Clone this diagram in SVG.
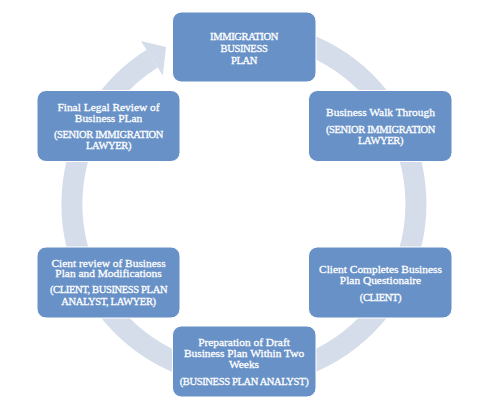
<svg xmlns="http://www.w3.org/2000/svg" width="482" height="409" viewBox="0 0 482 409">
<style>
.box{fill:#6891c7;stroke:#ffffff;stroke-width:1}
.t{font-family:"Liberation Serif","Times New Roman",serif;font-size:11.4px;fill:#ffffff;stroke:#ffffff;stroke-width:0.3px;text-anchor:middle}
.c{font-size:10.5px;letter-spacing:-0.35px}
.ring{fill:none;stroke:#d5dcea;stroke-width:21}
</style>
<rect width="482" height="409" fill="#ffffff"/>
<g id="connectors">
<path class="ring" d="M 259.0 32.7 A 172 172 0 1 1 152.1 58.6"/>
<polygon points="140.9,40.9 166,47 162.8,75.5" fill="#d5dcea"/>
</g>
<g id="node-plan">
<rect class="box" x="172.5" y="12" width="143.5" height="70" rx="9"/>
<text class="t c" x="244" y="40">IMMIGRATION</text>
<text class="t c" x="244" y="52.3">BUSINESS</text>
<text class="t c" x="244" y="64.3">PLAN</text>
</g>
<g id="node-walk">
<rect class="box" x="308.5" y="90.5" width="143.5" height="71" rx="9"/>
<text class="t" x="380.5" y="116">Business Walk Through</text>
<text class="t c" x="380.5" y="133.3">(SENIOR IMMIGRATION</text>
<text class="t c" x="380.5" y="143.5">LAWYER)</text>
</g>
<g id="node-questionaire">
<rect class="box" x="308.5" y="247" width="143.5" height="71" rx="9"/>
<text class="t" x="380.5" y="273.3">Client Completes Business</text>
<text class="t" x="380.5" y="284.3">Plan Questionaire</text>
<text class="t c" x="380.5" y="301">(CLIENT)</text>
</g>
<g id="node-draft">
<rect class="box" x="172.5" y="326" width="143.5" height="71" rx="9"/>
<text class="t" x="244" y="345.7">Preparation of Draft</text>
<text class="t" x="244" y="357.3">Business Plan Within Two</text>
<text class="t" x="244" y="368.3">Weeks</text>
<text class="t c" x="244" y="385">(BUSINESS PLAN ANALYST)</text>
</g>
<g id="node-client-review">
<rect class="box" x="37" y="247" width="143" height="71" rx="9"/>
<text class="t" x="108.5" y="266.7">Cient review of Business</text>
<text class="t" x="108.5" y="277.3">Plan and Modifications</text>
<text class="t c" x="108.5" y="293.3">(CLIENT, BUSINESS PLAN</text>
<text class="t c" x="108.5" y="305">ANALYST, LAWYER)</text>
</g>
<g id="node-final-review">
<rect class="box" x="37" y="90.5" width="143" height="71" rx="9"/>
<text class="t" x="108.5" y="110.7">Final Legal Review of</text>
<text class="t" x="108.5" y="121.7">Business PLan</text>
<text class="t c" x="108.5" y="138.3">(SENIOR IMMIGRATION</text>
<text class="t c" x="108.5" y="149.3">LAWYER)</text>
</g>
</svg>
